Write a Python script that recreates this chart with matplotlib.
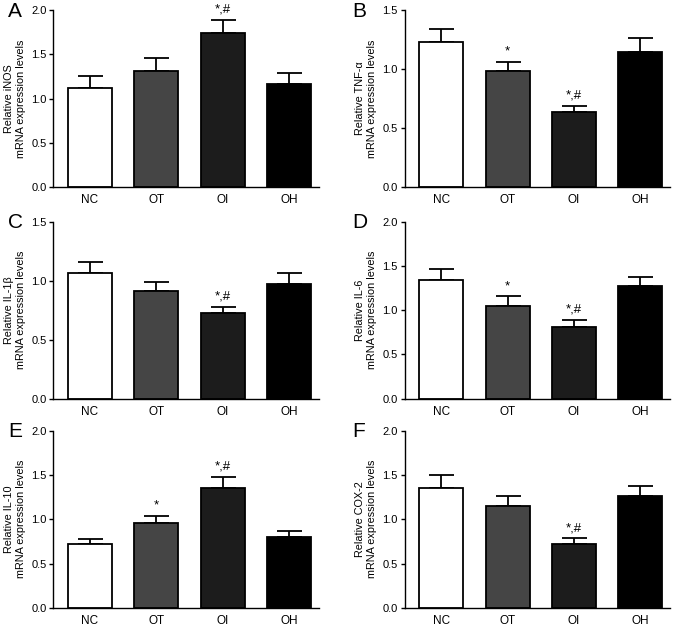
import matplotlib
matplotlib.use("Agg")
from matplotlib import pyplot as plt
import numpy as np

plt.rcParams['font.family'] = ['Liberation Sans', 'DejaVu Sans']

groups = ['NC', 'OT', 'OI', 'OH']
colors = ['white', '#454545', '#1c1c1c', '#000000']

inos = [1.12, 1.31, 1.74, 1.16]
inos_err = [0.13, 0.15, 0.15, 0.13]
inos_sig = ['', '', '*,#', '']

tnfa = [1.23, 0.98, 0.64, 1.145]
tnfa_err = [0.11, 0.08, 0.05, 0.115]
tnfa_sig = ['', '*', '*,#', '']

il1b = [1.065, 0.915, 0.725, 0.975]
il1b_err = [0.095, 0.07, 0.05, 0.09]
il1b_sig = ['', '', '*,#', '']

il6 = [1.345, 1.045, 0.815, 1.27]
il6_err = [0.115, 0.11, 0.07, 0.105]
il6_sig = ['', '*', '*,#', '']

il10 = [0.72, 0.96, 1.35, 0.80]
il10_err = [0.06, 0.08, 0.125, 0.068]
il10_sig = ['', '*', '*,#', '']

cox2 = [1.355, 1.15, 0.725, 1.265]
cox2_err = [0.145, 0.113, 0.058, 0.113]
cox2_sig = ['', '', '*,#', '']

panels = [
    ('A', 'Relative iNOS', inos, inos_err, inos_sig, 2.0),
    ('B', 'Relative TNF-\u03b1', tnfa, tnfa_err, tnfa_sig, 1.5),
    ('C', 'Relative IL-1\u03b2', il1b, il1b_err, il1b_sig, 1.5),
    ('D', 'Relative IL-6', il6, il6_err, il6_sig, 2.0),
    ('E', 'Relative IL-10', il10, il10_err, il10_sig, 2.0),
    ('F', 'Relative COX-2', cox2, cox2_err, cox2_sig, 2.0),
]

# axes rectangles in figure fraction: left, bottom, width, height
lefts = [0.079, 0.598]
bottoms = [0.701, 0.363, 0.029]
w, h = 0.392, 0.283

fig = plt.figure(figsize=(6.77, 6.26), dpi=100)

for i, (letter, name, vals, errs, sig, ymax) in enumerate(panels):
    col = i % 2
    row = i // 2
    ax = fig.add_axes([lefts[col], bottoms[row], w, h])
    x = np.arange(len(groups))
    ax.bar(x, vals, width=0.66, color=colors, edgecolor='black', linewidth=1.3,
           zorder=2)
    ax.errorbar(x, vals, yerr=[np.zeros(len(errs)), errs], fmt='none',
                ecolor='black', elinewidth=1.3, capsize=9, capthick=1.3,
                zorder=1)
    for xi, v, e, s in zip(x, vals, errs, sig):
        if s:
            ax.text(xi, v + e + 0.025 * ymax, s, ha='center', va='bottom',
                    fontsize=9.5)
    ax.set_xlim(-0.55, 3.45)
    ax.set_ylim(0, ymax)
    ax.set_yticks(np.arange(0, ymax + 0.01, 0.5))
    ax.set_yticklabels(['%.1f' % t for t in np.arange(0, ymax + 0.01, 0.5)])
    ax.set_xticks(x)
    ax.set_xticklabels(groups)
    ax.tick_params(labelsize=8.5, length=3, width=1, direction='out')
    ax.tick_params(axis='y', labelsize=8, pad=2)
    ax.tick_params(axis='x', length=0, pad=5)
    ax.spines['top'].set_visible(False)
    ax.spines['right'].set_visible(False)
    ax.spines['left'].set_linewidth(1)
    ax.spines['bottom'].set_linewidth(1)
    ax.set_ylabel(name + '\nmRNA expression levels', fontsize=7.8,
                  labelpad=4, linespacing=1.2)
    lx = 0.012 if col == 0 else 0.521
    ly = bottoms[row] + h - 0.002
    fig.text(lx, ly, letter, fontsize=15, ha='left', va='center')

fig.savefig('out.png', dpi=100)
